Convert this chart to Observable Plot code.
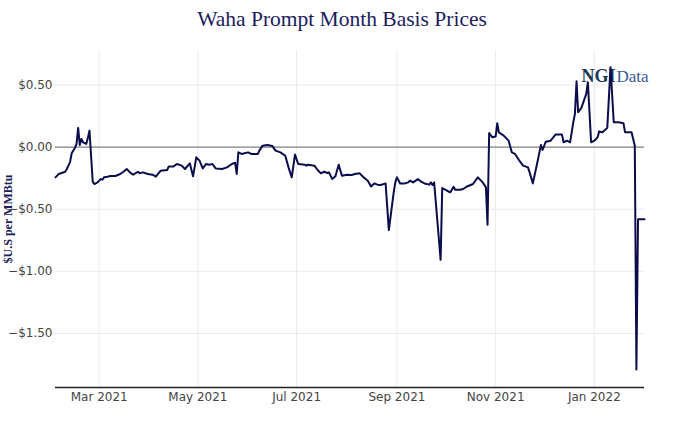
<!DOCTYPE html>
<html>
<head>
<meta charset="utf-8">
<script src="https://cdn.jsdelivr.net/npm/d3@7"></script>
<script src="https://cdn.jsdelivr.net/npm/@observablehq/plot@0.6"></script>
<style>
  html, body { margin: 0; padding: 0; background: #fff; }
  #title { height: 40px; width: 684px; text-align: center; font-family: "Liberation Serif", "Times New Roman", serif; font-size: 21.5px; color: #1c1c5c; line-height: 38px; }
  #chart svg { display: block; }
</style>
</head>
<body>
<div id="title">Waha Prompt Month Basis Prices</div>
<div id="chart"></div>
<script>
const dates = [
"2021-02-02","2021-02-04","2021-02-08","2021-02-09","2021-02-11","2021-02-12","2021-02-14","2021-02-15","2021-02-16","2021-02-17",
"2021-02-18","2021-02-19","2021-02-21","2021-02-22","2021-02-23","2021-02-25","2021-02-26","2021-02-28","2021-03-02","2021-03-03",
"2021-03-04","2021-03-06","2021-03-08","2021-03-11","2021-03-14","2021-03-16","2021-03-18","2021-03-20","2021-03-22","2021-03-25",
"2021-03-26","2021-03-28","2021-03-31","2021-04-03","2021-04-05","2021-04-08","2021-04-12","2021-04-13","2021-04-16","2021-04-18",
"2021-04-21","2021-04-23","2021-04-26","2021-04-28","2021-04-30","2021-05-02","2021-05-04","2021-05-06","2021-05-08","2021-05-10",
"2021-05-12","2021-05-16","2021-05-19","2021-05-22","2021-05-24","2021-05-25","2021-05-26","2021-05-28","2021-06-01","2021-06-03",
"2021-06-07","2021-06-08","2021-06-10","2021-06-13","2021-06-16","2021-06-18","2021-06-21","2021-06-24","2021-06-26","2021-06-28",
"2021-06-30","2021-07-02","2021-07-06","2021-07-07","2021-07-08","2021-07-12","2021-07-14","2021-07-16","2021-07-18","2021-07-20",
"2021-07-21","2021-07-23","2021-07-25","2021-07-27","2021-07-29","2021-08-01","2021-08-04","2021-08-06","2021-08-09","2021-08-11",
"2021-08-14","2021-08-16","2021-08-18","2021-08-20","2021-08-22","2021-08-25","2021-08-27","2021-08-30","2021-08-31","2021-09-01",
"2021-09-03","2021-09-06","2021-09-08","2021-09-09","2021-09-11","2021-09-14","2021-09-16","2021-09-18","2021-09-21","2021-09-22",
"2021-09-23","2021-09-24","2021-09-28","2021-09-29","2021-10-02","2021-10-04","2021-10-06","2021-10-07","2021-10-10","2021-10-12",
"2021-10-14","2021-10-18","2021-10-21","2021-10-24","2021-10-26","2021-10-27","2021-10-28","2021-10-30","2021-11-01","2021-11-02",
"2021-11-03","2021-11-06","2021-11-09","2021-11-11","2021-11-13","2021-11-16","2021-11-18","2021-11-21","2021-11-22","2021-11-24",
"2021-11-27","2021-11-29","2021-11-30","2021-12-02","2021-12-05","2021-12-08","2021-12-12","2021-12-13","2021-12-15","2021-12-17",
"2021-12-19","2021-12-20","2021-12-21","2021-12-22","2021-12-24","2021-12-27","2021-12-28","2021-12-30","2022-01-01","2022-01-03",
"2022-01-04","2022-01-06","2022-01-09","2022-01-11","2022-01-13","2022-01-16","2022-01-19","2022-01-20","2022-01-24","2022-01-26",
"2022-01-27","2022-01-28","2022-02-01"
];
const values = [
-0.243,-0.216,-0.198,-0.176,-0.12,-0.05,-0.006,0.026,0.155,0.018,
0.066,0.039,0.026,0.074,0.133,-0.278,-0.297,-0.284,-0.257,-0.262,
-0.243,-0.238,-0.232,-0.232,-0.216,-0.198,-0.176,-0.203,-0.222,-0.198,
-0.211,-0.203,-0.216,-0.222,-0.238,-0.19,-0.184,-0.155,-0.155,-0.136,
-0.149,-0.176,-0.13,-0.235,-0.082,-0.109,-0.171,-0.136,-0.141,-0.136,
-0.171,-0.176,-0.163,-0.136,-0.125,-0.216,-0.042,-0.055,-0.042,-0.055,
-0.055,-0.028,0.012,0.018,0.01,-0.028,-0.042,-0.069,-0.163,-0.243,
-0.06,-0.136,-0.141,-0.149,-0.141,-0.149,-0.184,-0.211,-0.198,-0.208,
-0.203,-0.257,-0.235,-0.141,-0.23,-0.222,-0.224,-0.216,-0.211,-0.238,
-0.27,-0.316,-0.292,-0.302,-0.305,-0.292,-0.668,-0.364,-0.284,-0.243,
-0.292,-0.292,-0.284,-0.27,-0.284,-0.257,-0.278,-0.292,-0.302,-0.284,
-0.305,-0.284,-0.907,-0.329,-0.351,-0.364,-0.319,-0.343,-0.343,-0.337,
-0.319,-0.297,-0.243,-0.284,-0.324,-0.625,0.114,0.079,0.085,0.192,
0.119,0.093,0.052,-0.042,-0.055,-0.115,-0.149,-0.163,-0.203,-0.292,
-0.109,0.018,-0.023,0.044,0.052,0.101,0.101,0.039,0.052,0.039,
0.2,0.268,0.531,0.281,0.316,0.429,0.523,0.039,0.052,0.079,
0.127,0.119,0.155,0.644,0.2,0.2,0.192,0.119,0.119,0.012,
-1.79,-0.58,-0.58
];
const xTickDates = ["2021-03-01","2021-05-01","2021-07-01","2021-09-01","2021-11-01","2022-01-01"];
const yTicks = [0.5, 0, -0.5, -1, -1.5];
const yMin = -1.935, yMax = 0.778;

const data = dates.map((d, i) => ({date: new Date(d), value: values[i]}));
const xTicks = xTickDates.map(d => new Date(d));
const fmtY = d => (d < 0 ? "\u2212" : "") + "$" + Math.abs(d).toFixed(2);

const chart = Plot.plot({
  width: 684,
  height: 387,
  marginTop: 10,
  marginBottom: 40,
  marginLeft: 55,
  marginRight: 40,
  style: {fontFamily: "DejaVu Sans, sans-serif", fontSize: "12px", color: "#444", background: "#fff"},
  x: {type: "utc", domain: [data[0].date, data[data.length - 1].date]},
  y: {domain: [yMin, yMax]},
  marks: [
    Plot.gridX(xTicks, {stroke: "#ebebeb", strokeOpacity: 1}),
    Plot.gridY(yTicks.filter(d => d !== 0), {stroke: "#ebebeb", strokeOpacity: 1}),
    Plot.text(["NGI"], {frameAnchor: "top-right", dx: -29, dy: 19, lineAnchor: "top", textAnchor: "end",
      fontFamily: "Liberation Serif, serif", fontWeight: "bold", fontSize: 18, fill: "#1b3655"}),
    Plot.text(["Data"], {frameAnchor: "top-right", dx: -28, dy: 19, lineAnchor: "top", textAnchor: "start",
      fontFamily: "Liberation Serif, serif", fontSize: 17, fill: "#3b5a96"}),
    Plot.ruleY([0], {stroke: "#7f7f7f", strokeWidth: 1.3}),
    Plot.ruleY([yMin], {stroke: "#222", strokeWidth: 1.5}),
    Plot.line(data, {x: "date", y: "value", stroke: "#0c0c4c", strokeWidth: 2}),
    Plot.axisX({ticks: xTicks, tickFormat: d3.utcFormat("%b %Y"), tickSize: 0, tickPadding: 5, label: null, fill: "#444"}),
    Plot.axisY({ticks: yTicks, tickFormat: fmtY, tickSize: 0, tickPadding: 3, label: null, fill: "#444"}),
    Plot.text(["$U.S per MMBtu"], {frameAnchor: "left", dx: -47, rotate: -90, textAnchor: "middle",
      fontFamily: "Liberation Serif, serif", fontWeight: "bold", fontSize: 12, fill: "#1c1c5c"})
  ]
});
document.getElementById("chart").appendChild(chart);
</script>
</body>
</html>
